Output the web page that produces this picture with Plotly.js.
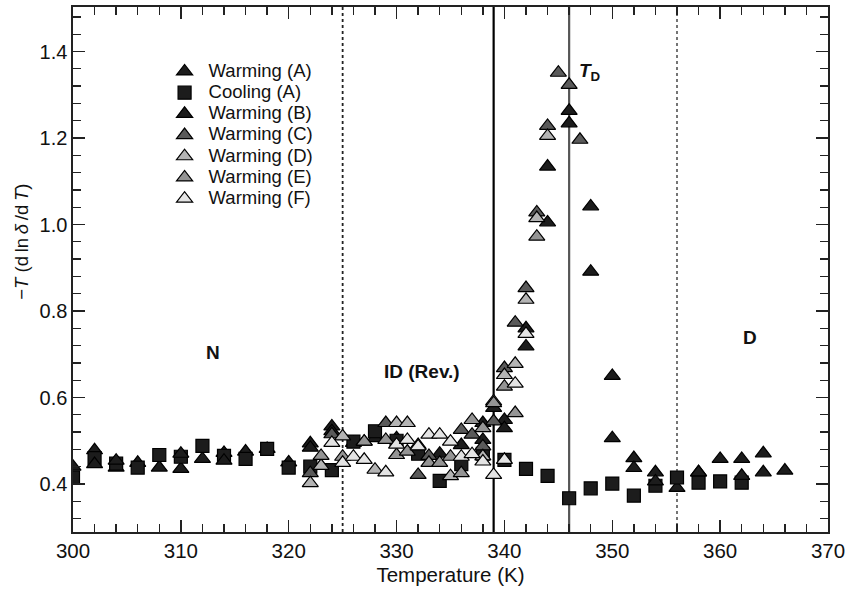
<!DOCTYPE html>
<html>
<head>
<meta charset="utf-8">
<script src="https://cdn.plot.ly/plotly-3.0.1.min.js"></script>
<style>html,body{margin:0;padding:0;background:#fff;}#chart{width:846px;height:590px;}</style>
</head>
<body>
<div id="chart"></div>
<script>
// ---- data ----
const warmA_T = [300,302,304,306,308,310,312,314,316,318,320,322,324,326,328,330,332,334,336,338,340,342,344,346,348,350,352,354,356,358,360,362,364,366];
const warmA_Y = [0.44,0.478,0.438,0.449,0.438,0.435,0.458,0.472,0.475,0.481,0.45,0.494,0.533,0.495,0.506,0.506,0.49,0.47,0.49,0.502,0.548,0.76,1.134,1.263,1.042,0.65,0.46,0.427,0.391,0.427,0.458,0.458,0.471,0.431];

const coolA_T = [300,302,304,306,308,310,312,314,316,318,320,322,324,326,328,330,332,334,336,338,340,342,344,346,348,350,352,354,356,358,360,362];
const coolA_Y = [0.415,0.46,0.447,0.438,0.467,0.463,0.488,0.465,0.458,0.481,0.438,0.44,0.432,0.498,0.522,0.5,0.47,0.407,0.446,0.47,0.456,0.435,0.419,0.367,0.39,0.401,0.373,0.396,0.415,0.403,0.406,0.403];

const warmB_T = [302,304,310,314,322,324,338,339,340,342,344,346,348,350,352,354,358,362,364];
const warmB_Y = [0.446,0.454,0.47,0.454,0.484,0.522,0.541,0.576,0.529,0.718,1.005,1.234,0.891,0.506,0.437,0.406,0.427,0.419,0.427];

const warmC_T = [322,324,327,329,332,333,336,337,338,339,340,341,342,343,344,345,346,347];
const warmC_Y = [0.425,0.515,0.498,0.541,0.421,0.465,0.525,0.514,0.487,0.545,0.668,0.773,0.853,1.028,1.228,1.351,1.323,1.196];

const warmD_T = [322,323,325,328,330,331,335,338,339,340,341,342,343,344];
const warmD_Y = [0.402,0.442,0.51,0.433,0.541,0.541,0.418,0.464,0.591,0.652,0.678,0.826,1.015,1.205];

const warmE_T = [323,325,327,329,330,331,333,334,335,336,337,338,339,340,341,343];
const warmE_Y = [0.465,0.463,0.498,0.502,0.467,0.475,0.449,0.449,0.463,0.425,0.548,0.529,0.587,0.625,0.564,0.972];

const warmF_T = [324,325,326,327,329,330,331,332,333,334,335,336,337,338,339,340,341,342];
const warmF_Y = [0.495,0.449,0.463,0.456,0.427,0.491,0.502,0.487,0.514,0.514,0.498,0.463,0.469,0.452,0.421,0.456,0.632,0.747];

const seriesNames = ['Warming (A)','Cooling (A)','Warming (B)','Warming (C)','Warming (D)','Warming (E)','Warming (F)'];
const vlineT = [325, 339, 346, 356];
const regionLabels = [
  {t:313, y:0.703, text:'<b>N</b>'},
  {t:332.4, y:0.659, text:'<b>ID (Rev.)</b>'},
  {t:362.8, y:0.738, text:'<b>D</b>'},
  {t:347.9, y:1.353, text:'<b><i>T</i><sub>D</sub></b>'}
];
const xTicks = [300,310,320,330,340,350,360,370];
const yTicks = [0.4,0.6,0.8,1.0,1.2,1.4];
const yTitle = '\u2212<i>T</i> (d\u2009ln\u2009<i>\u03b4</i>\u2009/d\u2009<i>T</i>)';

// ---- styles ----
const fills = ['#1c1c1c','#1c1c1c','#1c1c1c','#5a5a5a','#b4b4b4','#949494','#e4e4e4'];
const symbols = ['triangle-up','square','triangle-up','triangle-up','triangle-up','triangle-up','triangle-up'];
const sizes = [14,13,14,14,14,14,14];
const xs = [warmA_T,coolA_T,warmB_T,warmC_T,warmD_T,warmE_T,warmF_T];
const ys = [warmA_Y,coolA_Y,warmB_Y,warmC_Y,warmD_Y,warmE_Y,warmF_Y];

const traces = seriesNames.map((n,i)=>({
  type:'scatter', mode:'markers', name:'<span style="font-size:18.5px">'+n+'</span>', x:xs[i], y:ys[i],
  marker:{symbol:symbols[i], size:sizes[i], color:fills[i], line:{color:'#000', width:1.2}}
}));

const lineStyles = [
  {color:'#222', width:1.8, dash:'dot'},
  {color:'#000', width:2.2, dash:'solid'},
  {color:'#555', width:2.2, dash:'solid'},
  {color:'#666', width:1.8, dash:'dot'}
];
const shapes = vlineT.map((t,i)=>({type:'line', xref:'x', yref:'paper', x0:t, x1:t, y0:0, y1:1, line:lineStyles[i], layer:'below'}));

const font = {family:'"Liberation Sans", Arial, Helvetica, sans-serif', color:'#111'};

const annotations = regionLabels.map(a=>({x:a.t, y:a.y, xref:'x', yref:'y', text:a.text, showarrow:false, font:Object.assign({size:19}, font)}));
annotations.push({xref:'paper', yref:'paper', x:-0.0675, y:0.553, text:yTitle, textangle:-90, showarrow:false, xanchor:'center', yanchor:'middle', font:Object.assign({size:18.5}, font)});

const layout = {
  width:846, height:590,
  margin:{l:73, r:18, t:7, b:58},
  paper_bgcolor:'#fff', plot_bgcolor:'#fff',
  font:Object.assign({size:19}, font),
  showlegend:true,
  legend:{x:0.116, y:0.907, xanchor:'left', yanchor:'top', bgcolor:'rgba(0,0,0,0)', font:Object.assign({size:14}, font), tracegroupgap:0, itemwidth:38},
  xaxis:{
    range:[300,370], showgrid:false, zeroline:false,
    showline:true, linecolor:'#222', linewidth:1.6, mirror:'ticks',
    ticks:'inside', ticklen:12, tickwidth:1.3, tickcolor:'#222',
    tickvals:xTicks, ticktext:xTicks.map(String),
    tickfont:Object.assign({size:20.5}, font),
    minor:{dtick:2, tick0:300, ticks:'inside', ticklen:8, tickwidth:1.3, tickcolor:'#222'},
    title:{text:'Temperature (K)', font:Object.assign({size:20.5}, font), standoff:6}
  },
  yaxis:{
    range:[0.289,1.503], showgrid:false, zeroline:false,
    showline:true, linecolor:'#222', linewidth:1.6, mirror:'ticks',
    ticks:'inside', ticklen:12, tickwidth:1.3, tickcolor:'#222',
    tickvals:yTicks, ticktext:yTicks.map(v=>v.toFixed(1)),
    tickfont:Object.assign({size:20}, font),
    minor:{dtick:0.04, tick0:0.4, ticks:'inside', ticklen:8, tickwidth:1.3, tickcolor:'#222'}
  },
  shapes:shapes,
  annotations:annotations
};

Plotly.newPlot('chart', traces, layout, {displayModeBar:false, staticPlot:true});
</script>
</body>
</html>
